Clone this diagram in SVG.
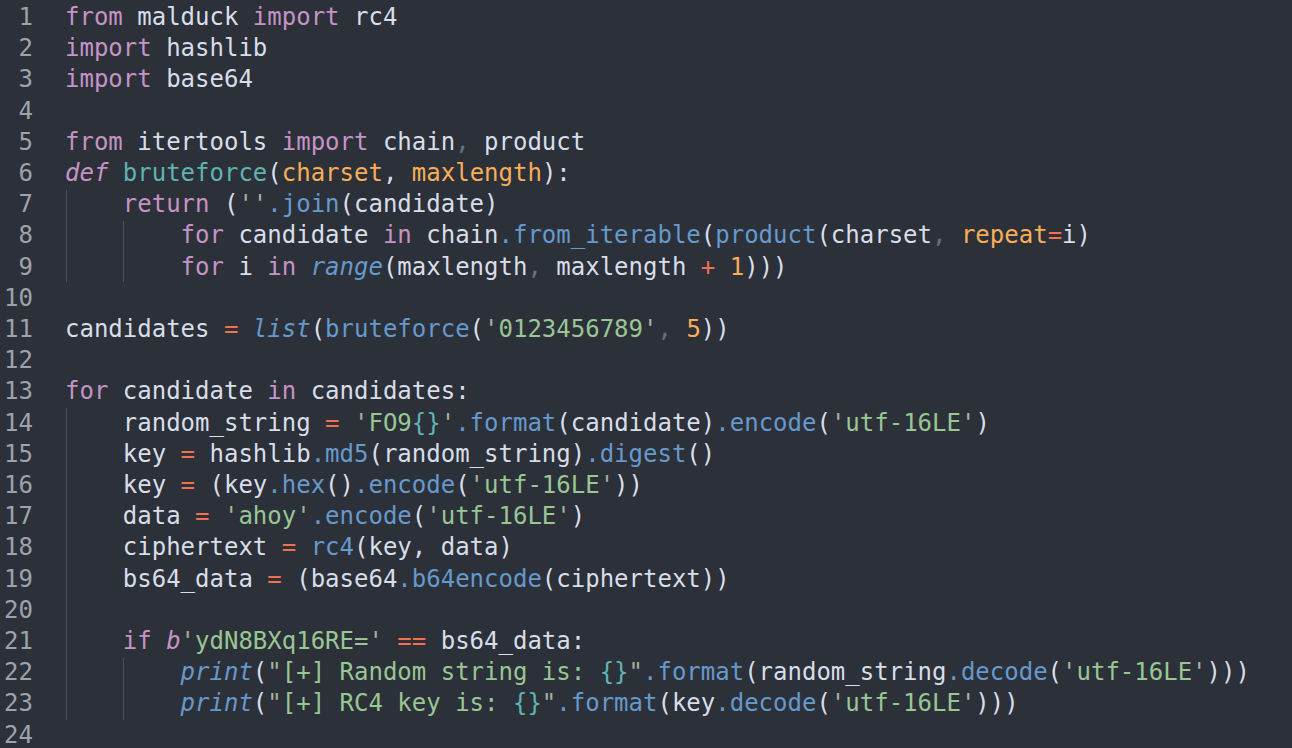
<svg xmlns="http://www.w3.org/2000/svg" width="1292" height="748" viewBox="0 0 1292 748">
<style>
text{font-family:"DejaVu Sans Mono","Liberation Mono",monospace;font-size:24px;fill:#d8dee9;white-space:pre}
.ln{fill:#9ea3ab;text-anchor:end}
.k{fill:#c594c5}
.ki{fill:#c594c5;font-style:italic}
.f{fill:#5fb3b3}
.p{fill:#f9ae58}
.o{fill:#f0704f}
.s{fill:#99c794}
.q{fill:#a3b39e}
.m{fill:#6699cc}
.mi{fill:#6699cc;font-style:italic}
.c{fill:#65737e}
.t{fill:#5fb3b3}
.g{stroke:#4b515b;stroke-width:1}
</style>
<rect width="1292" height="748" fill="#2c3039"/>
<g id="guides">
<line class="g" x1="66.5" y1="190" x2="66.5" y2="282"/>
<line class="g" x1="123.5" y1="221" x2="123.5" y2="282"/>
<line class="g" x1="66.5" y1="408" x2="66.5" y2="720"/>
<line class="g" x1="123.5" y1="658" x2="123.5" y2="720"/>
</g>
<g id="gutter">
<text class="ln" x="33" y="25">1</text>
<text class="ln" x="33" y="56.2">2</text>
<text class="ln" x="33" y="87.4">3</text>
<text class="ln" x="33" y="118.6">4</text>
<text class="ln" x="33" y="149.8">5</text>
<text class="ln" x="33" y="181">6</text>
<text class="ln" x="33" y="212.2">7</text>
<text class="ln" x="33" y="243.4">8</text>
<text class="ln" x="33" y="274.6">9</text>
<text class="ln" x="33" y="305.8">10</text>
<text class="ln" x="33" y="337">11</text>
<text class="ln" x="33" y="368.2">12</text>
<text class="ln" x="33" y="399.4">13</text>
<text class="ln" x="33" y="430.6">14</text>
<text class="ln" x="33" y="461.8">15</text>
<text class="ln" x="33" y="493">16</text>
<text class="ln" x="33" y="524.2">17</text>
<text class="ln" x="33" y="555.4">18</text>
<text class="ln" x="33" y="586.6">19</text>
<text class="ln" x="33" y="617.8">20</text>
<text class="ln" x="33" y="649">21</text>
<text class="ln" x="33" y="680.2">22</text>
<text class="ln" x="33" y="711.4">23</text>
<text class="ln" x="33" y="742.6">24</text>
</g>
<g id="code" xml:space="preserve">
<text x="65" y="25"><tspan class="k">from</tspan> malduck <tspan class="k">import</tspan> rc4</text>
<text x="65" y="56.2"><tspan class="k">import</tspan> hashlib</text>
<text x="65" y="87.4"><tspan class="k">import</tspan> base64</text>
<text x="65" y="149.8"><tspan class="k">from</tspan> itertools <tspan class="k">import</tspan> chain<tspan class="c">,</tspan> product</text>
<text x="65" y="181"><tspan class="ki">def</tspan> <tspan class="f">bruteforce</tspan>(<tspan class="p">charset</tspan>, <tspan class="p">maxlength</tspan>):</text>
<text x="65" y="212.2">    <tspan class="k">return</tspan> (<tspan class="q">''</tspan><tspan class="m">.join</tspan>(candidate)</text>
<text x="65" y="243.4">        <tspan class="k">for</tspan> candidate <tspan class="k">in</tspan> chain<tspan class="m">.from_iterable</tspan>(<tspan class="m">product</tspan>(charset<tspan class="c">,</tspan> <tspan class="p">repeat</tspan><tspan class="o">=</tspan>i)</text>
<text x="65" y="274.6">        <tspan class="k">for</tspan> i <tspan class="k">in</tspan> <tspan class="mi">range</tspan>(maxlength<tspan class="c">,</tspan> maxlength <tspan class="o">+</tspan> <tspan class="p">1</tspan>)))</text>
<text x="65" y="337">candidates <tspan class="o">=</tspan> <tspan class="mi">list</tspan>(<tspan class="m">bruteforce</tspan>(<tspan class="q">'</tspan><tspan class="s">0123456789</tspan><tspan class="q">'</tspan><tspan class="c">,</tspan> <tspan class="p">5</tspan>))</text>
<text x="65" y="399.4"><tspan class="k">for</tspan> candidate <tspan class="k">in</tspan> candidates:</text>
<text x="65" y="430.6">    random_string <tspan class="o">=</tspan> <tspan class="q">'</tspan><tspan class="s">FO9</tspan><tspan class="t">{}</tspan><tspan class="q">'</tspan><tspan class="m">.format</tspan>(candidate)<tspan class="m">.encode</tspan>(<tspan class="q">'</tspan><tspan class="s">utf-16LE</tspan><tspan class="q">'</tspan>)</text>
<text x="65" y="461.8">    key <tspan class="o">=</tspan> hashlib<tspan class="m">.md5</tspan>(random_string)<tspan class="m">.digest</tspan>()</text>
<text x="65" y="493">    key <tspan class="o">=</tspan> (key<tspan class="m">.hex</tspan>()<tspan class="m">.encode</tspan>(<tspan class="q">'</tspan><tspan class="s">utf-16LE</tspan><tspan class="q">'</tspan>))</text>
<text x="65" y="524.2">    data <tspan class="o">=</tspan> <tspan class="q">'</tspan><tspan class="s">ahoy</tspan><tspan class="q">'</tspan><tspan class="m">.encode</tspan>(<tspan class="q">'</tspan><tspan class="s">utf-16LE</tspan><tspan class="q">'</tspan>)</text>
<text x="65" y="555.4">    ciphertext <tspan class="o">=</tspan> <tspan class="m">rc4</tspan>(key, data)</text>
<text x="65" y="586.6">    bs64_data <tspan class="o">=</tspan> (base64<tspan class="m">.b64encode</tspan>(ciphertext))</text>
<text x="65" y="649">    <tspan class="k">if</tspan> <tspan class="ki">b</tspan><tspan class="q">'</tspan><tspan class="s">ydN8BXq16RE=</tspan><tspan class="q">'</tspan> <tspan class="o">==</tspan> bs64_data:</text>
<text x="65" y="680.2">        <tspan class="mi">print</tspan>(<tspan class="q">"</tspan><tspan class="s">[+] Random string is: </tspan><tspan class="t">{}</tspan><tspan class="q">"</tspan><tspan class="m">.format</tspan>(random_string<tspan class="m">.decode</tspan>(<tspan class="q">'</tspan><tspan class="s">utf-16LE</tspan><tspan class="q">'</tspan>)))</text>
<text x="65" y="711.4">        <tspan class="mi">print</tspan>(<tspan class="q">"</tspan><tspan class="s">[+] RC4 key is: </tspan><tspan class="t">{}</tspan><tspan class="q">"</tspan><tspan class="m">.format</tspan>(key<tspan class="m">.decode</tspan>(<tspan class="q">'</tspan><tspan class="s">utf-16LE</tspan><tspan class="q">'</tspan>)))</text>
</g>
</svg>
